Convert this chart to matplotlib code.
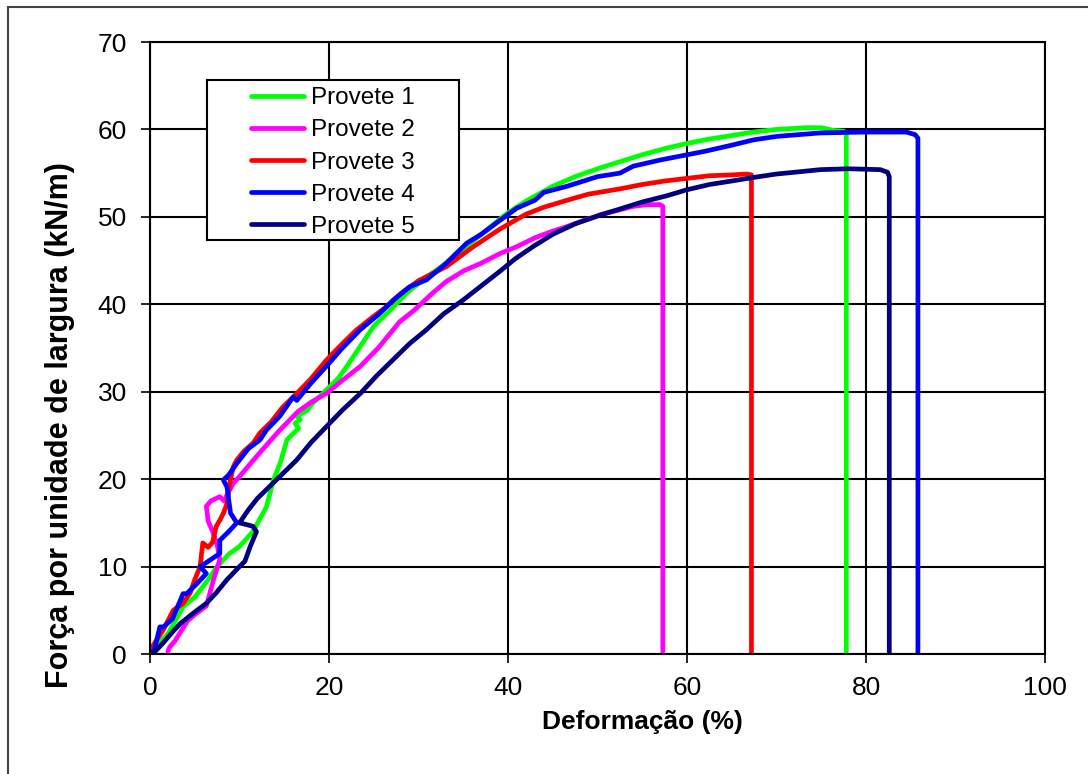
import matplotlib.pyplot as plt
from matplotlib.patches import Rectangle

plt.rcParams['font.family'] = ['Liberation Sans', 'DejaVu Sans']

# ensaio de tracção - provetes 1 a 5
p1_x = [0, 1.0, 2.0, 3.7, 5.0, 6.5, 7.5, 8.9, 10.0, 11.5, 13.0, 13.8, 14.6, 15.3, 16.0, 16.6,
        16.2, 16.8, 16.4, 17.5, 18.2, 19.7, 21.0, 22.0, 23.5, 25.0, 27.0, 28.7, 31.0, 33.1,
        35.0, 37.0, 39.9, 42.0, 45.0, 47.5, 50.3, 52.5, 55.0, 57.5, 60.0, 62.5, 65.0, 67.4,
        70.0, 73.4, 75.0, 76.3, 77.5, 77.8, 77.8]
p1_y = [0, 1.2, 2.3, 5.4, 6.5, 8.5, 10.0, 11.5, 12.3, 14.0, 16.8, 19.9, 22.0, 24.5, 25.2, 25.8,
        26.4, 26.8, 27.2, 27.8, 28.7, 30.2, 31.5, 32.9, 35.2, 37.5, 39.5, 41.3, 43.2, 44.7,
        46.3, 48.0, 50.4, 51.8, 53.5, 54.6, 55.6, 56.3, 57.1, 57.8, 58.4, 58.9, 59.3, 59.7,
        60.0, 60.2, 60.2, 59.9, 59.8, 59.5, 0]

p2_x = [2.0, 2.2, 2.8, 3.4, 4.2, 5.0, 6.3, 7.1, 7.8, 7.5, 7.0, 6.5, 6.3, 6.8, 7.8, 8.3, 8.6,
        9.3, 10.0, 11.0, 12.5, 14.5, 16.5, 18.0, 19.7, 21.5, 23.5, 25.5, 27.9, 29.5, 31.6,
        33.1, 35.0, 37.0, 39.1, 41.0, 43.0, 44.8, 46.6, 48.5, 50.5, 52.5, 54.0, 55.5, 57.0,
        57.3, 57.3]
p2_y = [0.3, 0.8, 1.5, 2.5, 3.8, 4.5, 5.5, 8.5, 10.8, 12.5, 14.0, 15.2, 16.9, 17.5, 18.0,
        17.5, 18.2, 19.5, 20.3, 21.5, 23.3, 25.6, 27.7, 28.8, 29.8, 31.3, 32.9, 35.0, 38.0,
        39.3, 41.3, 42.6, 43.8, 44.7, 45.8, 46.6, 47.6, 48.3, 48.9, 49.6, 50.3, 50.8, 51.2,
        51.4, 51.4, 51.2, 0]

p3_x = [0, 0.5, 1.5, 2.6, 3.7, 4.5, 5.0, 5.6, 5.9, 6.5, 7.0, 7.4, 7.8, 8.2, 8.6, 8.9, 9.3,
        9.7, 10.5, 11.5, 12.3, 13.5, 14.8, 16.4, 18.0, 19.7, 21.5, 23.0, 24.7, 26.4, 28.0,
        30.0, 33.1, 36.0, 39.1, 42.0, 44.0, 46.6, 49.0, 52.5, 55.0, 57.5, 60.0, 62.5, 65.0,
        66.7, 67.2, 67.2]
p3_y = [0.5, 1.2, 2.8, 5.0, 5.8, 7.0, 8.5, 10.0, 12.7, 12.2, 12.8, 14.6, 15.3, 16.1, 17.2,
        19.5, 21.4, 22.2, 23.2, 24.1, 25.3, 26.5, 28.2, 29.8, 31.5, 33.6, 35.5, 37.0, 38.4,
        39.7, 41.2, 42.7, 44.3, 46.5, 48.6, 50.3, 51.1, 51.9, 52.6, 53.2, 53.7, 54.1, 54.4,
        54.7, 54.8, 54.9, 54.8, 0]

p4_x = [0, 0.5, 1.1, 1.5, 2.5, 3.7, 4.1, 5.2, 6.3, 5.6, 6.8, 7.8, 7.8, 8.8, 9.7, 9.0, 8.6,
        8.2, 8.8, 9.7, 11.0, 12.3, 13.0, 14.5, 16.0, 16.4, 18.0, 19.7, 21.5, 23.5, 25.5,
        27.2, 29.0, 30.9, 33.1, 35.4, 37.0, 39.1, 41.0, 43.0, 44.0, 46.6, 50.0, 52.5, 54.0,
        57.0, 60.0, 62.0, 65.0, 67.4, 70.0, 74.9, 80.0, 84.5, 85.5, 85.8, 85.8]
p4_y = [0, 0.5, 3.1, 3.1, 4.0, 6.9, 6.9, 8.0, 9.2, 10.0, 10.8, 11.5, 13.0, 14.0, 15.0, 16.1,
        19.1, 19.9, 20.5, 21.8, 23.5, 24.5, 25.6, 27.2, 29.4, 29.0, 31.0, 32.9, 35.0, 37.1,
        38.8, 40.5, 42.0, 42.8, 44.7, 47.0, 48.0, 49.6, 51.0, 51.9, 52.8, 53.5, 54.6, 55.0,
        55.8, 56.5, 57.1, 57.5, 58.2, 58.8, 59.2, 59.6, 59.7, 59.7, 59.4, 59.0, 0]

p5_x = [0, 0.4, 1.5, 2.5, 3.4, 5.0, 6.3, 7.4, 8.6, 10.0, 10.6, 11.2, 11.9, 11.5, 10.8, 10.0,
        11.0, 12.0, 13.0, 14.7, 16.4, 18.0, 19.7, 21.5, 23.5, 25.3, 27.5, 29.0, 30.9, 32.8,
        35.0, 37.0, 39.0, 40.8, 42.8, 45.0, 47.5, 50.3, 52.5, 55.0, 57.7, 60.0, 62.5, 65.0,
        67.4, 70.0, 72.0, 74.9, 78.0, 81.6, 82.4, 82.6, 82.6]
p5_y = [0, 0.1, 1.3, 2.5, 3.5, 4.8, 5.8, 7.0, 8.5, 10.0, 10.6, 12.3, 14.0, 14.6, 14.8, 15.0,
        16.5, 17.8, 18.8, 20.5, 22.2, 24.2, 26.0, 27.9, 29.8, 31.8, 34.0, 35.5, 37.1, 38.9,
        40.5, 42.1, 43.7, 45.2, 46.6, 48.0, 49.2, 50.2, 50.9, 51.7, 52.4, 53.1, 53.7, 54.1,
        54.5, 54.9, 55.1, 55.4, 55.5, 55.4, 55.1, 54.6, 0]

labels = ['Provete 1', 'Provete 2', 'Provete 3', 'Provete 4', 'Provete 5']
colors = ['#00ff00', '#ff00ff', '#ff0000', '#0000ff', '#000080']
series = [(p1_x, p1_y), (p2_x, p2_y), (p3_x, p3_y), (p4_x, p4_y), (p5_x, p5_y)]

W, H = 1088, 774
fig = plt.figure(figsize=(W / 100, H / 100), dpi=100)
ax = fig.add_axes([150 / W, 1 - 654 / H, (1045 - 150) / W, (654 - 42) / H])

# moldura exterior da folha
fig.patches.append(Rectangle((8 / W, -0.1), 1.2, 1.1 - 7 / H, transform=fig.transFigure,
                             fill=False, edgecolor='#444444', linewidth=1.5))

lines = []
for (x, y), c, lab in zip(series, colors, labels):
    ln, = ax.plot(x, y, color=c, linewidth=3.4, label=lab, solid_joinstyle='round',
                  solid_capstyle='round')
    lines.append(ln)

ax.set_xlim(0, 100)
ax.set_ylim(0, 70)
ax.set_xticks(range(0, 101, 20))
ax.set_yticks(range(0, 71, 10))
ax.grid(True, color='black', linewidth=1.5)
ax.set_axisbelow(True)
for s in ax.spines.values():
    s.set_linewidth(1.5)
ax.tick_params(axis='both', labelsize=19, length=6.5, width=1.2, direction='out')
ax.tick_params(axis='y', pad=10)
ax.tick_params(axis='x', pad=9)

# caixa da legenda
ax.add_patch(Rectangle((207 / W, 1 - 240 / H), (459 - 207) / W, 160 / H,
                       transform=fig.transFigure, facecolor='white', edgecolor='black',
                       linewidth=1.5, zorder=4))
leg = fig.legend(handles=lines, loc='center left', bbox_to_anchor=(251 / W, 1 - 162.5 / H),
                 frameon=False, fontsize=17.5, handlelength=2.2, handletextpad=0.25,
                 labelspacing=0.42, borderpad=0, borderaxespad=0)
leg.set_zorder(6)

fig.text(642 / W, 1 - 722 / H, 'Deformação (%)', fontsize=19, fontweight='bold',
         ha='center', va='center')
fig.text(60 / W, 1 - 425 / H, 'Força por unidade de largura (kN/m)', fontsize=22,
         fontweight='bold', ha='center', va='center', rotation=90)

fig.savefig('out.png', dpi=100)
